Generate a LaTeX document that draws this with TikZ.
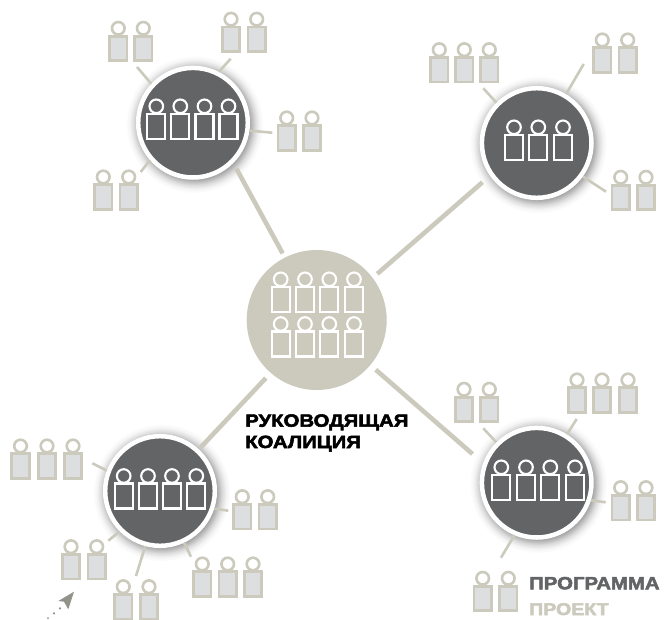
\documentclass[tikz,border=0pt]{standalone}
\usepackage{fontspec}
\newfontfamily\labelfont[FakeStretch=1.15,FakeBold=3]{Liberation Sans Bold}
\definecolor{hubdark}{HTML}{636466}
\definecolor{khaki}{HTML}{CBCABD}
\definecolor{bodyfill}{HTML}{DCDEE0}
\definecolor{arrowgray}{HTML}{92928A}
\pgfdeclareradialshading{hubhalo}{\pgfpoint{0bp}{0bp}}{
  color(0bp)=(black!45);
  color(18bp)=(black!45);
  color(20bp)=(black!34);
  color(22bp)=(black!14);
  color(23.5bp)=(black!4);
  color(25bp)=(white)}
\tikzset{
  halo/.style={shading=hubhalo},
  hub/.style={circle,draw=white,line width=4.5pt,fill=hubdark,minimum size=109.6pt,inner sep=0pt},
  core/.style={circle,fill=khaki,minimum size=140pt,inner sep=0pt},
  thickline/.style={draw=khaki,line width=4.6pt},
  spoke/.style={draw=khaki,line width=2.6pt},
  litebody/.style={rectangle,draw=khaki,fill=bodyfill,line width=2.8pt,minimum width=17.5pt,minimum height=24.4pt,inner sep=0pt},
  litehead/.style={circle,draw=khaki,fill=white,line width=2.6pt,minimum size=12.6pt,inner sep=0pt},
  whitebody/.style={rectangle,draw=white,line width=2.1pt,minimum width=18pt,minimum height=25pt,inner sep=0pt},
  whitehead/.style={circle,draw=white,line width=2.1pt,minimum size=13.6pt,inner sep=0pt},
  title/.style={font=\labelfont\fontsize{17.7}{20}\selectfont,anchor=base west,inner sep=0pt},
  smalltitle/.style={font=\labelfont\fontsize{17}{18}\selectfont,anchor=base west,inner sep=0pt},
}
% #1 style prefix, #2 name, #3 x, #4 y of body centre
\newcommand{\person}[4]{%
  \node[#1head] (#2h) at (#3,#4-20) {};
  \node[#1body] (#2b) at (#3,#4) {};
}
\begin{document}
\begin{tikzpicture}[x=1pt,y=-1pt]
\useasboundingbox (0,0) rectangle (664,619);
% halos
\shade[halo] (194.5,124.2) circle (69);
\shade[halo] (538.2,144.5) circle (69);
\shade[halo] (161.5,492.5) circle (69);
\shade[halo] (538.2,484.2) circle (69);
% circles
\node[hub] (tl) at (193,122.7) {};
\node[hub] (tr) at (536.7,143) {};
\node[hub] (bl) at (160,491) {};
\node[hub] (br) at (536.7,482.7) {};
\node[core] (centre) at (316.7,320) {};
% thick connectors
\draw[thickline,shorten <=4.6pt,shorten >=6.4pt] (centre.117.7) -- (tl.-45);
\draw[thickline,shorten <=6pt,shorten >=10pt] (centre.37.9) -- (tr.215);
\draw[thickline,shorten <=7pt,shorten >=2pt] (centre.229) -- (bl.47);
\draw[thickline,shorten <=7pt,shorten >=14pt] (centre.-40.3) -- (br.160.4);
% free spoke ends
\coordinate (e1) at (137,67);
\coordinate (e2) at (230.7,58.7);
\coordinate (e3) at (272.3,132.7);
\coordinate (e4) at (140.7,172);
\coordinate (e5) at (483.3,88.3);
\coordinate (e6) at (583.7,64);
\coordinate (e7) at (606,191.7);
\coordinate (e8) at (92.3,463.3);
\coordinate (e9) at (228.3,510.7);
\coordinate (e10) at (191,556.7);
\coordinate (e11) at (136,576);
\coordinate (e12) at (108.3,540.7);
\coordinate (e13) at (483.3,428.3);
\coordinate (e14) at (576.7,419);
\coordinate (e15) at (605.7,502.3);
\coordinate (e16) at (501,557.7);
\draw[spoke] (tl.137) -- (e1);
\draw[spoke] (tl.63.4) -- (e2);
\draw[spoke] (tl.-8) -- (e3);
\draw[spoke] (tl.221.5) -- (e4);
\draw[spoke] (tr.135) -- (e5);
\draw[spoke] (tr.59) -- (e6);
\draw[spoke] (tr.-36) -- (e7);
\draw[spoke] (bl.159) -- (e8);
\draw[spoke] (bl.-18.7) -- (e9);
\draw[spoke] (bl.-65) -- (e10);
\draw[spoke] (bl.255.8) -- (e11);
\draw[spoke] (bl.225) -- (e12);
\draw[spoke] (br.135) -- (e13);
\draw[spoke] (br.58.7) -- (e14);
\draw[spoke] (br.-18) -- (e15);
\draw[spoke] (br.247) -- (e16);
% people inside hubs
\person{white}{ta}{156.3}{126.3}\person{white}{tb}{180.3}{126.3}\person{white}{tc}{204.5}{126.3}\person{white}{td}{228.5}{126.3}
\person{white}{ra}{514}{147.3}\person{white}{rb}{538.3}{147.3}\person{white}{rc}{563}{147.3}
\person{white}{la}{123.7}{496}\person{white}{lb}{148}{496}\person{white}{lc}{172}{496}\person{white}{ld}{196.3}{496}
\person{white}{ba}{501.3}{487.3}\person{white}{bb}{526}{487.3}\person{white}{bc}{550.3}{487.3}\person{white}{bd}{575}{487.3}
\person{white}{ca}{280.7}{299.3}\person{white}{cb}{305}{299.3}\person{white}{cc}{329.3}{299.3}\person{white}{cd}{354}{299.3}
\person{white}{da}{280.7}{344}\person{white}{db}{305}{344}\person{white}{dc}{329.3}{344}\person{white}{dd}{354}{344}
% outer people
\person{lite}{p1}{118.3}{48.3}\person{lite}{p2}{143.3}{48.3}
\person{lite}{p3}{231}{39.2}\person{lite}{p4}{256.7}{39.2}
\person{lite}{p5}{286.7}{138}\person{lite}{p6}{312}{138}
\person{lite}{p7}{103.3}{197}\person{lite}{p8}{128.7}{197}
\person{lite}{p9}{439.3}{69.7}\person{lite}{p10}{464.3}{69.7}\person{lite}{p11}{489.3}{69.7}
\person{lite}{p12}{602.3}{60}\person{lite}{p13}{627.7}{60}
\person{lite}{p14}{620.7}{197.3}\person{lite}{p15}{646}{197.3}
\person{lite}{p16}{20.5}{466}\person{lite}{p17}{47}{466}\person{lite}{p18}{73}{466}
\person{lite}{p19}{242.3}{516.7}\person{lite}{p20}{267.7}{516.7}
\person{lite}{p21}{202.3}{584}\person{lite}{p22}{227.7}{584}\person{lite}{p23}{253}{584}
\person{lite}{p24}{71}{566.7}\person{lite}{p25}{96.7}{566.7}
\person{lite}{p26}{123.3}{606.7}\person{lite}{p27}{149}{606.7}
\person{lite}{p28}{464}{409.3}\person{lite}{p29}{489.3}{409.3}
\person{lite}{p30}{577}{400}\person{lite}{p31}{602}{400}\person{lite}{p32}{628}{400}
\person{lite}{p33}{620.7}{507.7}\person{lite}{p34}{646}{507.7}
\person{lite}{p35}{482.7}{598.3}\person{lite}{p36}{508.3}{598.3}
% arrow
\fill[arrowgray] (74,591.7) -- (58.3,601) -- (64,601.7) -- (68.3,609.3) -- cycle;
\fill[arrowgray] (60,608.3) circle (1.2);
\fill[arrowgray] (54,613.3) circle (1.2);
\fill[arrowgray] (48,618) circle (1);
% labels
\node[title,text=black] (t1) at (245,426.7) {РУКОВОДЯЩАЯ};
\node[title,text=black] (t2) at (245,448) {КОАЛИЦИЯ};
\node[title,text=hubdark] (t3) at (529,589.3) {ПРОГРАММА};
\node[smalltitle,text=khaki] (t4) at (529,615) {ПРОЕКТ};
\end{tikzpicture}
\end{document}
